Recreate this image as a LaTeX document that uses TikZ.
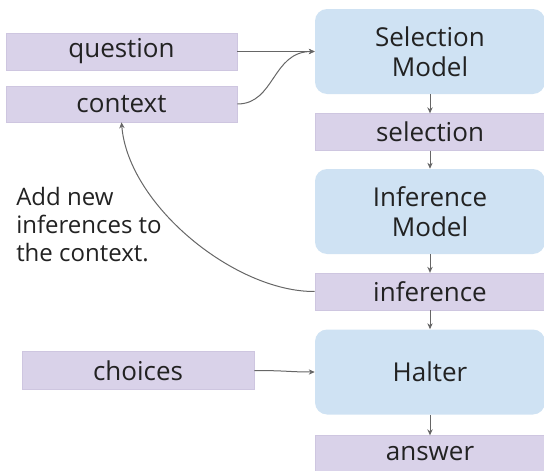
\documentclass[tikz,border=0pt]{standalone}
\usepackage{fontspec}
\setmainfont{Open Sans}
\usetikzlibrary{arrows.meta}
\definecolor{pfill}{HTML}{D9D2E9}
\definecolor{pline}{HTML}{CEC6E0}
\definecolor{bfill}{HTML}{CFE2F3}
\definecolor{txt}{HTML}{222222}
\definecolor{arr}{HTML}{666666}
\tikzset{
  pbox/.style={fill=pfill, draw=pline, line width=0.5pt, text=txt, inner sep=0pt,
    font=\fontsize{19.5}{22.5}\selectfont, align=center},
  bbox/.style={fill=bfill, rounded corners=9pt, text=txt, inner sep=0pt,
    font=\fontsize{19.5}{22.5}\selectfont, align=center,
    minimum width=172.5pt, minimum height=63.75pt},
  rbox/.style={pbox, minimum width=172.5pt, minimum height=27.5pt},
  conn/.style={draw=arr, line width=0.75pt, -{Stealth[length=4.5pt,width=4pt]}},
}
\begin{document}
\begin{tikzpicture}[x=0.75pt,y=-0.75pt]
\useasboundingbox (0,0) rectangle (544,471);
\node[pbox, minimum width=173.25pt, minimum height=27.75pt] (question) at (121.5,51.5) {question};
\node[pbox, minimum width=173.25pt, minimum height=27pt] (context) at (121.5,104) {context};
\node[pbox, minimum width=174pt, minimum height=28.5pt] (choices) at (138,370.5) {choices};
\node[bbox] (selmodel) at (430,51.5) {Selection\\Model};
\node[rbox] (selection) at (430,132) {selection};
\node[bbox] (infmodel) at (430,211.5) {Inference\\Model};
\node[rbox] (inference) at (430,291.5) {inference};
\node[bbox] (halter) at (430,372) {Halter};
\node[rbox] (answer) at (430,454) {answer};
\node[text=txt, anchor=north west, align=left, inner sep=0pt,
  font=\fontsize{18}{21}\selectfont] (note) at (16,187) {Add new\\inferences to\\the context.};
\draw[conn] (question.east) -- (selmodel.west);
\draw[conn] (context.east) .. controls (275,104) and (272,51.5) .. (selmodel.west);
\draw[conn] (selmodel.south) -- (selection.north);
\draw[conn] (selection.south) -- (infmodel.north);
\draw[conn] (infmodel.south) -- (inference.north);
\draw[conn] (inference.south) -- (halter.north);
\draw[conn] (halter.south) -- (answer.north);
\draw[conn] (inference.west) .. controls (235,292) and (128,205) .. (context.south);
\draw[conn] (choices.east) .. controls (285,370.5) and (290,372) .. (halter.west);
\end{tikzpicture}
\end{document}
